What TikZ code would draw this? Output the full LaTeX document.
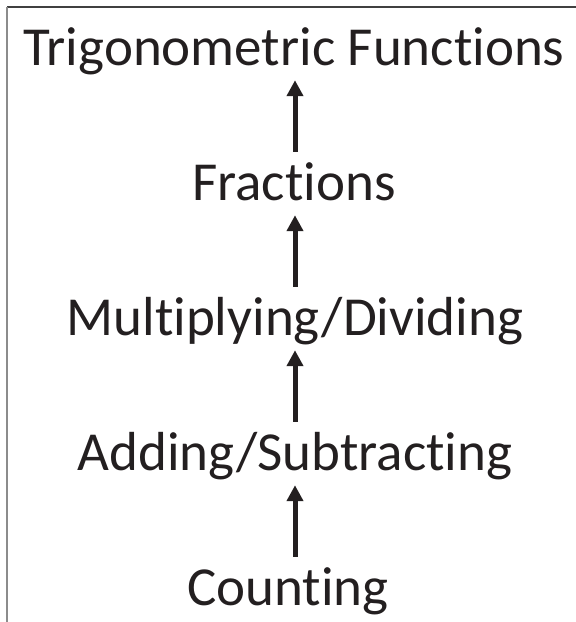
\documentclass[tikz,border=0pt]{standalone}
\usepackage{fontspec}
\setmainfont{Carlito}[Ligatures={CommonOff,ContextualOff,RequiredOff},RawFeature={-liga;-calt;-clig;-dlig}]
\usetikzlibrary{arrows.meta}
\definecolor{ink}{HTML}{231F20}
\begin{document}
\begin{tikzpicture}[x=1pt,y=1pt,
  lbl/.style={anchor=base,inner sep=0pt,text height=35pt,text depth=0pt,text=ink,font=\fontsize{55pt}{60pt}\selectfont},
  uparrow/.style={draw=ink,line width=5pt,-{Triangle[width=16pt,length=16pt]},shorten <=13pt,shorten >=15pt}]
\useasboundingbox (0,0) rectangle (576,-622);
\draw[line width=1.5pt,draw=black!75] (7,-7) -- (576,-7);
\draw[line width=1.5pt,draw=black!45] (7,-7) -- (7,-622);
\node[lbl] (trig) at (294,-65) {Trigonometric Functions};
\node[lbl] (frac) at (294,-200) {Fractions};
\node[lbl] (mult) at (295,-335) {Multiplying/Dividing};
\node[lbl] (add) at (295,-470) {Adding/Subtracting};
\node[lbl] (count) at (288,-605) {Counting};
\coordinate (ax) at (295,0);
\draw[uparrow] (count.north -| ax) -- (add.south -| ax);
\draw[uparrow] (add.north -| ax) -- (mult.south -| ax);
\draw[uparrow] (mult.north -| ax) -- (frac.south -| ax);
\draw[uparrow] (frac.north -| ax) -- (trig.south -| ax);
\end{tikzpicture}
\end{document}
